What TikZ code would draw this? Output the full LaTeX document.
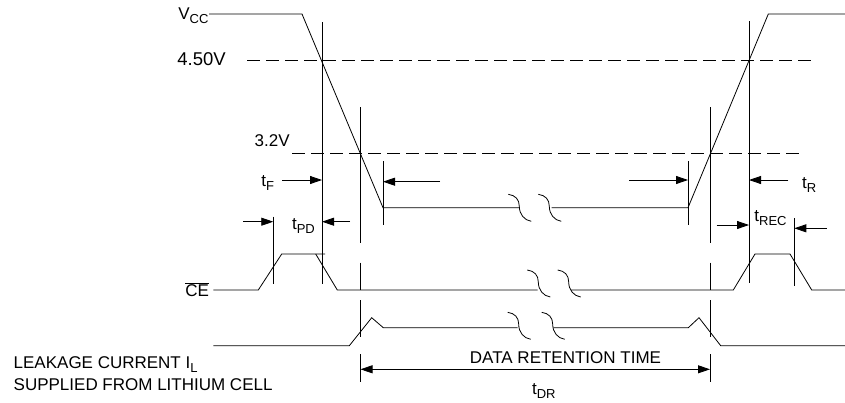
\documentclass[tikz,border=0pt]{standalone}
\usepackage{fontspec}
\setmainfont{Liberation Sans}
\usetikzlibrary{arrows.meta}
\newcommand\sbs[1]{\raisebox{-4pt}{\fontsize{13}{13}\selectfont #1}}
\newcommand\squig[2]{\draw[shift={(#1,#2)}] (0,0) .. controls (7,1) and (11,5) .. (11,12) .. controls (11,20) and (16,26) .. (23,27);}
\begin{document}
\begin{tikzpicture}[x=1pt,y=-1pt, line width=0.8pt,
  lbl/.style={inner sep=0pt, font=\fontsize{17}{17}\selectfont},
  arr/.style={-{Triangle[length=12pt,width=8pt]}},
  darr/.style={{Triangle[length=12pt,width=8pt]}-{Triangle[length=12pt,width=8pt]}},
  dsh/.style={dash pattern=on 13pt off 6pt}]
\useasboundingbox (0,0) rectangle (845,402);

% VCC waveform
\draw (209,14) -- (302,14) -- (383,207.7) -- (519,207.7);
\draw (551.7,207.7) -- (688,207.7) -- (768.3,14) -- (845,14);
\squig{508.3}{194.3}
\squig{538.3}{194.3}

% threshold lines
\draw[dsh] (247,60) -- (813,60);
\draw[dsh] (292,153) -- (802,153);

% vertical markers
\draw (322,22) -- (322,284);
\draw (749,21) -- (749,283);
\draw (383,161) -- (383,225);
\draw (688,161) -- (688,225);
\draw (273.3,216.7) -- (273.3,284);
\draw (794.3,218.3) -- (794.3,286);
\foreach \xx in {360.5,710}{
  \draw (\xx,107) -- (\xx,243.3);
  \draw (\xx,262.7) -- (\xx,290);
  \draw (\xx,300) -- (\xx,336.7);
  \draw (\xx,354) -- (\xx,381.7);
}

% arrows
\draw[arr] (282,180) -- (322,180);
\draw[arr] (440,181.7) -- (383,181.7);
\draw[arr] (629,180) -- (688,180);
\draw[arr] (788.3,180) -- (749,180);
\draw[arr] (243.3,221.7) -- (273.3,221.7);
\draw[arr] (350,221.7) -- (322,221.7);
\draw[arr] (716.7,225) -- (749,225);
\draw[arr] (826.7,228.3) -- (794.3,228.3);
\draw[darr] (360.5,369.3) -- (710,369.3);

% CE waveform
\draw (213.3,290) -- (258.3,290) -- (281.7,254) -- (325,254);
\draw (315.7,254) -- (337.3,290) -- (537.7,290);
\draw (571,290) -- (733.3,290) -- (755,254) -- (790,254) -- (811.7,290) -- (845,290);
\squig{527.3}{270}
\squig{557.7}{270}

% data retention current waveform
\draw (213.3,345.7) -- (349.3,345.7) -- (371.7,317.7) -- (383.3,327.7) -- (517.7,327.7);
\draw (553.3,327.7) -- (688.3,327.7) -- (699,317.7) -- (720.7,345.7) -- (845,345.7);
\squig{507.7}{312.3}
\squig{541.7}{312.3}

% labels
\node[lbl,anchor=base west] (vcc) at (178,19.3) {V\sbs{CC}};
\node[lbl,anchor=base west,font=\fontsize{18.5}{18.5}\selectfont] (v45) at (177,65) {4.50V};
\node[lbl,anchor=base west] (v32) at (254.3,146.7) {3.2V};
\node[lbl,anchor=base west] (tf) at (261,186) {t\sbs{F}};
\node[lbl,anchor=base west] (tpd) at (291.7,229) {t\sbs{PD}};
\node[lbl,anchor=base west] (tr) at (801.7,188) {t\sbs{R}};
\node[lbl,anchor=base west] (trec) at (754,221) {t\sbs{REC}};
\node[lbl,anchor=base west] (ce) at (185,296.7) {$\overline{\mbox{CE}}$};
\node[lbl,anchor=base] (drt) at (565.5,363.3) {DATA RETENTION TIME};
\node[lbl,anchor=base west] (tdr) at (531.7,394) {t\sbs{DR}};
\node[lbl,anchor=base west] (leak1) at (13.3,368.3) {LEAKAGE CURRENT I\sbs{L}};
\node[lbl,anchor=base west] (leak2) at (13.3,390) {SUPPLIED FROM LITHIUM CELL};
\end{tikzpicture}
\end{document}
